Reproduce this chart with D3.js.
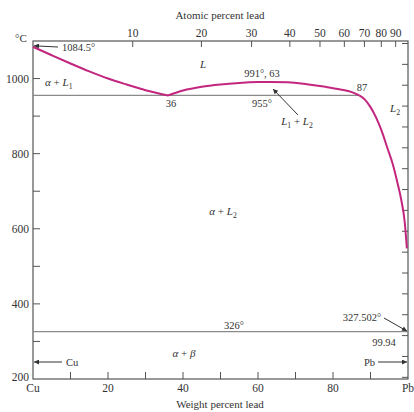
<!DOCTYPE html>
<html>
<head>
<meta charset="utf-8">
<script src="https://cdn.jsdelivr.net/npm/d3@7"></script>
<style>
  body { margin: 0; background: #fff; }
  svg text { font-family: "Liberation Serif", "DejaVu Serif", serif; fill: #333; }
</style>
</head>
<body>
<div id="chart"></div>
<script>
// liquidus from pure Cu down to the monotectic (wt% Pb, °C)
const liquidusCu = [
  [0, 1084.5], [5, 1062], [10, 1040], [15, 1019], [20, 1000],
  [25, 984], [30, 969], [36, 955]
];
// miscibility gap L1 + L2
const miscibilityDome = [
  [36, 955], [40, 968], [45, 978], [50, 984], [55, 988], [60, 990.5],
  [63, 991], [68, 990], [73, 985], [78, 978], [82, 971], [85, 964], [87, 955]
];
// L2 liquidus towards Pb
const liquidusPb = [
  [87, 955], [88.5, 944], [90, 924], [91.5, 896], [93, 860], [94.5, 815],
  [96, 770], [97.2, 722], [98.3, 672], [99.1, 620], [99.7, 548]
];
// invariant lines
const monotectic = { temp: 955, from: 0, to: 87 };
const eutectic = { temp: 326, from: 0, to: 100 };

const weightTicks = [0, 10, 20, 30, 40, 50, 60, 70, 80, 90, 100];
const weightLabels = { 0: 'Cu', 20: '20', 40: '40', 60: '60', 80: '80', 100: 'Pb' };
const atomicTicks = [10, 20, 30, 40, 50, 60, 70, 80, 90];
const celsiusTicks = [300, 400, 500, 600, 700, 800, 900, 1000];
const celsiusLabels = [200, 400, 600, 800, 1000];
const fahrenheitTicks = [400, 500, 600, 700, 800, 900, 1000, 1100, 1200, 1300,
  1400, 1500, 1600, 1700, 1800, 1900, 2000];

const width = 414, height = 412;
const x = d3.scaleLinear().domain([0, 100]).range([33, 408]);
const y = d3.scaleLinear().domain([200, 1100]).range([379, 41]);

// atomic % Pb -> weight % Pb
const MPb = 207.2, MCu = 63.546;
const atToWt = a => 100 * a * MPb / (a * MPb + (100 - a) * MCu);
const fToC = f => (f - 32) * 5 / 9;

const svg = d3.select('#chart').append('svg')
  .attr('width', width)
  .attr('height', height);

const defs = svg.append('defs');
defs.append('marker')
  .attr('id', 'arrow')
  .attr('viewBox', '0 -5 10 10')
  .attr('refX', 10)
  .attr('refY', 0)
  .attr('markerWidth', 7)
  .attr('markerHeight', 5)
  .attr('markerUnits', 'userSpaceOnUse')
  .attr('orient', 'auto')
  .append('path')
  .attr('d', 'M0,-5L10,0L0,5Z')
  .attr('fill', '#333');

const axisColor = '#555';
const frame = svg.append('g');
// frame
frame.append('rect')
  .attr('x', x(0)).attr('y', y(1100))
  .attr('width', x(100) - x(0)).attr('height', y(200) - y(1100))
  .attr('fill', 'none').attr('stroke', axisColor).attr('stroke-width', 1.2);

// left axis ticks (inward)
frame.selectAll('.ltick').data(celsiusTicks).join('line')
  .attr('x1', x(0)).attr('x2', x(0) + 7)
  .attr('y1', d => y(d)).attr('y2', d => y(d))
  .attr('stroke', axisColor);
frame.selectAll('.llabel').data(celsiusLabels).join('text')
  .attr('x', 29).attr('y', d => y(d) + (d === 200 ? 2 : 4))
  .attr('text-anchor', 'end')
  .attr('font-size', 11.5)
  .text(d => d);

// right axis ticks, Fahrenheit (inward)
frame.selectAll('.rtick').data(fahrenheitTicks).join('line')
  .attr('x1', x(100)).attr('x2', x(100) - 6)
  .attr('y1', d => y(fToC(d))).attr('y2', d => y(fToC(d)))
  .attr('stroke', axisColor);

// bottom axis
frame.selectAll('.btick').data(weightTicks.filter(d => d > 0 && d < 100)).join('line')
  .attr('x1', d => x(d)).attr('x2', d => x(d))
  .attr('y1', y(200)).attr('y2', y(200) - 7)
  .attr('stroke', axisColor);
frame.selectAll('.blabel').data(weightTicks.filter(d => weightLabels[d] !== undefined)).join('text')
  .attr('x', d => x(d)).attr('y', 392)
  .attr('text-anchor', 'middle')
  .attr('font-size', 11.5)
  .text(d => weightLabels[d]);
frame.append('text')
  .attr('x', 220).attr('y', 408)
  .attr('text-anchor', 'middle').attr('font-size', 11)
  .text('Weight percent lead');

// top axis (atomic percent)
frame.selectAll('.ttick').data(atomicTicks).join('line')
  .attr('x1', d => x(atToWt(d))).attr('x2', d => x(atToWt(d)))
  .attr('y1', y(1100)).attr('y2', y(1100) + 6)
  .attr('stroke', axisColor);
frame.selectAll('.tlabel').data(atomicTicks).join('text')
  .attr('x', d => x(atToWt(d))).attr('y', 37)
  .attr('text-anchor', 'middle')
  .attr('font-size', 11.5)
  .text(d => d);
frame.append('text')
  .attr('x', 220).attr('y', 19)
  .attr('text-anchor', 'middle').attr('font-size', 11)
  .text('Atomic percent lead');
frame.append('text')
  .attr('x', 15).attr('y', 42)
  .attr('font-size', 11)
  .text('°C');

// invariant lines
const grey = '#8a8a8a';
[monotectic, eutectic].forEach(l => {
  svg.append('line')
    .attr('x1', x(l.from)).attr('x2', x(l.to))
    .attr('y1', y(l.temp)).attr('y2', y(l.temp))
    .attr('stroke', grey).attr('stroke-width', 1.3);
});

// liquidus curves
const line = d3.line()
  .x(d => x(d[0]))
  .y(d => y(d[1]))
  .curve(d3.curveMonotoneX);
[liquidusCu, miscibilityDome, liquidusPb].forEach(seg => {
  svg.append('path')
    .attr('d', line(seg))
    .attr('fill', 'none')
    .attr('stroke', '#c2267f')
    .attr('stroke-width', 2)
    .attr('stroke-linejoin', 'round');
});

// labels with italic / subscript parts
function label(px, py, parts, size = 11, anchor = 'start') {
  const t = svg.append('text')
    .attr('x', px).attr('y', py)
    .attr('font-size', size)
    .attr('text-anchor', anchor);
  parts.forEach(p => {
    const s = t.append('tspan').text(p.t);
    if (p.i) s.attr('font-style', 'italic');
    if (p.sub) s.attr('font-size', size * 0.7).attr('dy', 2.5);
    if (p.up) s.attr('dy', -2.5);
  });
  return t;
}

label(45, 86, [{ t: 'α', i: true }, { t: ' + ' }, { t: 'L', i: true }, { t: '1', sub: true }], 11);
label(203, 68, [{ t: 'L', i: true }], 11, 'middle');
label(171, 107, [{ t: '36' }], 10.5, 'middle');
label(262, 77, [{ t: '991°, 63' }], 10.5, 'middle');
label(262, 107, [{ t: '955°' }], 10.5, 'middle');
label(362, 91, [{ t: '87' }], 10.5, 'middle');
label(297, 125, [{ t: 'L', i: true }, { t: '1', sub: true }, { t: ' + ', up: true }, { t: 'L', i: true }, { t: '2', sub: true }], 11, 'middle');
label(390, 112, [{ t: 'L', i: true }, { t: '2', sub: true }], 11);
label(223, 215, [{ t: 'α', i: true }, { t: ' + ' }, { t: 'L', i: true }, { t: '2', sub: true }], 11, 'middle');
label(234, 329, [{ t: '326°' }], 10.5, 'middle');
label(362, 321, [{ t: '327.502°' }], 10.5, 'middle');
label(384, 346, [{ t: '99.94' }], 10.5, 'middle');
label(184, 357, [{ t: 'α', i: true }, { t: ' + ' }, { t: 'β', i: true }], 11, 'middle');
label(62, 51, [{ t: '1084.5°' }], 10.5);
label(66, 366, [{ t: 'Cu' }], 10.5);
label(375, 366, [{ t: 'Pb' }], 10.5, 'end');

// arrows
const arrows = [
  [[58, 47], [x(0) + 1, y(1084.5) - 1]],
  [[298, 115], [273, 89]],
  [[384, 318], [x(100) - 1, y(327.5)]],
  [[62, 362], [x(0) + 1, 362]],
  [[378, 362], [x(100) - 1, 362]]
];
arrows.forEach(a => {
  svg.append('line')
    .attr('x1', a[0][0]).attr('y1', a[0][1])
    .attr('x2', a[1][0]).attr('y2', a[1][1])
    .attr('stroke', '#333').attr('stroke-width', 1)
    .attr('marker-end', 'url(#arrow)');
});
</script>
</body>
</html>
